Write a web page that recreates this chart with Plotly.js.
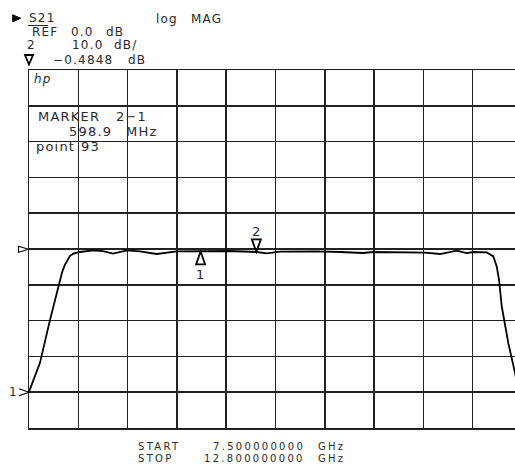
<!DOCTYPE html>
<html>
<head>
<meta charset="utf-8">
<script src="https://cdn.plot.ly/plotly-3.0.1.min.js"></script>
<style>
html,body{margin:0;padding:0;overflow:hidden;background:#fff;}
#chart{width:532px;height:470px;}
.annotation-text{letter-spacing:1.2px;}
</style>
</head>
<body>
<div id="chart"></div>
<script>
// Swept S21 trace (GHz, dB)
const freqGHz = [7.500, 7.618, 7.726, 7.858, 7.887, 7.941, 7.976, 8.048, 8.188, 8.296, 8.403, 8.554, 8.693, 8.873, 9.088, 9.338, 9.661, 9.948, 10.056, 10.199, 10.338, 10.593, 10.844, 10.951, 11.091, 11.198, 11.596, 11.757, 11.919, 12.098, 12.206, 12.277, 12.421, 12.492, 12.528, 12.553, 12.582, 12.653, 12.725, 12.760, 12.800];
const s21dB   = [-39.9, -31.8, -19.8, -6.3, -4.4, -1.9, -1.3, -0.84, -0.39, -0.61, -1.31, -0.39, -0.67, -1.40, -0.67, -0.67, -0.56, -0.84, -1.23, -0.75, -0.67, -0.67, -0.84, -1.03, -1.12, -0.84, -0.84, -1.03, -1.40, -0.47, -1.17, -0.84, -0.95, -2.07, -4.86, -8.57, -16.0, -26.3, -34.6, -40.0, -45.0];

// Markers
const markerLabels = ['1', '2'];
const markerFreqGHz = [9.345, 9.944];
const markerDb = [-0.67, -0.80];

// Scale settings
const refLevelDb = 0.0;
const dbPerDiv = 10.0;
const startGHz = 7.5;
const stopGHz = 12.8;
const divisions = 10;

// geometry (pixels)
const L = 29, T = 70, PW = 493, PH = 358, W = 532, H = 470;
const px = x => (x - L) / PW;
const py = y => 1 - (y - T) / PH;

const FONT = {family: 'DejaVu Sans, sans-serif', size: 12, color: '#2a2a2a'};
const FONT_M = Object.assign({}, FONT, {size: 13});
const FONT_S = Object.assign({}, FONT, {size: 10});

function txt(text, x, y, anchor, font, extra) {
  return Object.assign({
    text: text, xref: 'paper', yref: 'paper', x: px(x), y: py(y),
    xanchor: anchor || 'left', yanchor: 'middle', showarrow: false,
    font: font || FONT, borderpad: 0
  }, extra || {});
}
const wide = s => '<span style="letter-spacing:2.3px">' + s + '</span>';

const annotations = [
  txt('S21', 28, 17.5),
  txt('log', 155, 19), txt('MAG', 190, 19),
  txt('REF', 31, 32), txt(refLevelDb.toFixed(1), 70, 32), txt('dB', 105, 32),
  txt('2', 26, 44.5), txt(dbPerDiv.toFixed(1), 71, 44.5), txt('dB/', 113, 44.5),
  txt('\u22120.4848', 52, 60), txt('dB', 127, 60),
  txt('hp', 33, 78.5, 'left', Object.assign({}, FONT, {style: 'italic'})),
  txt('MARKER', 37, 116.7, 'left', FONT_M), txt('2\u22121', 115, 116.7, 'left', FONT_M),
  txt('598.9', 68, 131.7, 'left', FONT_M), txt('MHz', 125, 131.7, 'left', FONT_M),
  txt('point', 35, 146, 'left', FONT_M), txt('93', 80, 146, 'left', FONT_M),
  txt('1', 13, 391.5, 'center'),
  txt(wide('START'), 137, 446, 'left', FONT_S), txt(wide(startGHz.toFixed(9)), 306, 446, 'right', FONT_S), txt(wide('GHz'), 317, 446, 'left', FONT_S),
  txt(wide('STOP'), 137, 458, 'left', FONT_S), txt(wide(stopGHz.toFixed(9)), 306, 458, 'right', FONT_S), txt(wide('GHz'), 317, 458, 'left', FONT_S)
];

// marker number labels, positioned relative to the marker via pixel shifts
markerLabels.forEach((lab, i) => {
  annotations.push({
    text: lab, x: markerFreqGHz[i], y: markerDb[i], xref: 'x', yref: 'y',
    showarrow: false, font: FONT_M, borderpad: 0,
    xanchor: 'center', yanchor: 'middle',
    yshift: i === 0 ? -23 : 20
  });
});

const shapes = [];
function pixShape(xref, yref, xa, ya, path, filled, lw) {
  shapes.push({
    type: 'path', xref: xref, yref: yref,
    xsizemode: 'pixel', ysizemode: 'pixel', xanchor: xa, yanchor: ya,
    path: path, line: {color: '#000', width: lw || 1.8},
    fillcolor: filled ? '#000' : 'rgba(0,0,0,0)'
  });
}
// marker triangles on the trace
pixShape('x', 'y', markerFreqGHz[0], markerDb[0], 'M 0 0 L -4.5 -13 L 4.5 -13 Z');
pixShape('x', 'y', markerFreqGHz[1], markerDb[1], 'M 0 0 L -4.5 12.5 L 4.5 12.5 Z');
// header symbols
pixShape('paper', 'paper', px(12.7), py(18.3), 'M 0 3.5 L 8 0 L 0 -3.5 Z', true, 1);
pixShape('paper', 'paper', px(29), py(64.5), 'M 0 0 L -4 9.5 L 4 9.5 Z', false, 1.8);
// underline of the active channel label
shapes.push({type: 'line', xref: 'paper', yref: 'paper', x0: px(28), x1: px(48), y0: py(25.5), y1: py(25.5), line: {color: '#2a2a2a', width: 1}});
// reference-position pointer and channel pointer at the left edge
pixShape('paper', 'paper', px(28.5), py(249.3), 'M 0 0 L -10 3 L -10 -3 Z', false, 1.1);
pixShape('paper', 'paper', px(29), py(392.3), 'M -10 3.5 L 0 0 L -10 -3.5', false, 1.1);

const trace = {
  x: freqGHz, y: s21dB, type: 'scatter', mode: 'lines',
  line: {color: '#000', width: 1.8}, hoverinfo: 'skip'
};

const axisCommon = {
  showticklabels: false, ticks: '', zeroline: false,
  showgrid: true, gridcolor: '#222', gridwidth: 1.5,
  showline: true, linecolor: '#222', linewidth: 1.5, mirror: true, fixedrange: true
};

const layout = {
  width: W, height: H,
  margin: {l: L, r: W - L - PW, t: T, b: H - T - PH, pad: 0},
  paper_bgcolor: '#fff', plot_bgcolor: '#fff',
  showlegend: false,
  xaxis: Object.assign({}, axisCommon, {
    range: [startGHz, stopGHz], tick0: startGHz, dtick: (stopGHz - startGHz) / divisions
  }),
  yaxis: Object.assign({}, axisCommon, {
    range: [refLevelDb - 5 * dbPerDiv, refLevelDb + 5 * dbPerDiv], tick0: refLevelDb, dtick: dbPerDiv
  }),
  annotations: annotations,
  shapes: shapes
};

Plotly.newPlot('chart', [trace], layout, {staticPlot: true, displayModeBar: false});
</script>
</body>
</html>
